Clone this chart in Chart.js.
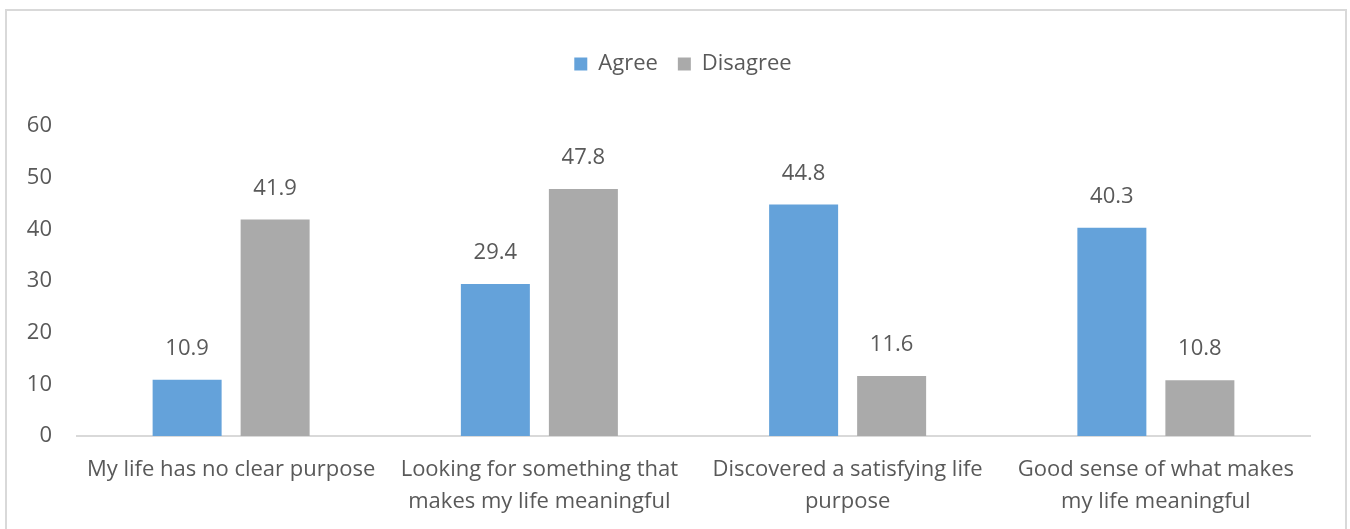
<!DOCTYPE html>
<html>
<head>
<meta charset="utf-8">
<script src="https://cdn.jsdelivr.net/npm/chart.js@4.4.1/dist/chart.umd.min.js"></script>
<style>
  html, body { margin: 0; padding: 0; background: #fff; }
  #marco { position: absolute; left: 5px; top: 9px; width: 1342px; height: 540px; border: 2px solid #d9d9d9; box-sizing: border-box; }
  #lienzo { position: absolute; left: 0; top: 0; }
</style>
</head>
<body>
<div id="marco"></div>
<canvas id="lienzo" width="1350" height="529"></canvas>
<script>
const categorias = [
    'My life has no clear purpose',
    ['Looking for something that', 'makes my life meaningful'],
    ['Discovered a satisfying life', 'purpose'],
    ['Good sense of what makes', 'my life meaningful']
];
const acuerdo = [10.9, 29.4, 44.8, 40.3];
const desacuerdo = [41.9, 47.8, 11.6, 10.8];
const ticksY = [0, 10, 20, 30, 40, 50, 60];

const colorTexto = '#595959';
const fuente = '"Open Sans", Lato, sans-serif';

// etiquetas de valor sobre cada barra
const etiquetas = {
    id: 'etiquetas',
    afterDatasetsDraw(chart) {
        const ctx = chart.ctx;
        ctx.save();
        ctx.font = '22px ' + fuente;
        ctx.fillStyle = colorTexto;
        ctx.textAlign = 'center';
        ctx.textBaseline = 'middle';
        chart.data.datasets.forEach((ds, i) => {
            chart.getDatasetMeta(i).data.forEach((barra, j) => {
                ctx.fillText(ds.data[j].toFixed(1), barra.x, barra.y - 31);
            });
        });
        ctx.restore();
    }
};

// alto fijo de la leyenda y un poco corrida a la derecha
const altoLeyenda = {
    id: 'altoLeyenda',
    beforeInit(chart) {
        const fit = chart.legend.fit;
        chart.legend.fit = function () {
            fit.bind(chart.legend)();
            this.height = 93;
        };
    },
    afterLayout(chart) {
        chart.legend.left += 28;
        chart.legend.right += 28;
    }
};

new Chart(document.getElementById('lienzo').getContext('2d'), {
    type: 'bar',
    data: {
        labels: categorias,
        datasets: [
            { label: 'Agree', data: acuerdo, backgroundColor: '#64a2da' },
            { label: 'Disagree', data: desacuerdo, backgroundColor: '#aaaaaa' }
        ]
    },
    options: {
        responsive: false,
        animation: false,
        categoryPercentage: 0.571,
        barPercentage: 0.784,
        layout: { padding: { top: 33, right: 40, left: 0, bottom: 0 } },
        plugins: {
            tooltip: { enabled: false },
            legend: {
                position: 'top',
                labels: {
                    color: colorTexto,
                    font: { family: fuente, size: 22 },
                    boxWidth: 13,
                    boxHeight: 13,
                    padding: 20
                }
            }
        },
        scales: {
            x: {
                grid: { display: false, drawTicks: false },
                border: { display: true, color: '#d9d9d9', width: 2 },
                ticks: {
                    color: colorTexto,
                    font: { family: fuente, size: 22, lineHeight: 1.45 },
                    maxRotation: 0,
                    autoSkip: false,
                    padding: 18
                },
                afterFit(escala) { escala.height = 93; }
            },
            y: {
                min: 0,
                max: 60,
                afterBuildTicks(escala) { escala.ticks = ticksY.map(v => ({ value: v })); },
                grid: { display: false, drawTicks: false },
                border: { display: false },
                ticks: {
                    color: colorTexto,
                    font: { family: fuente, size: 22 },
                    padding: 25
                },
                afterFit(escala) { escala.width = 77; }
            }
        }
    },
    plugins: [etiquetas, altoLeyenda]
});
</script>
</body>
</html>
